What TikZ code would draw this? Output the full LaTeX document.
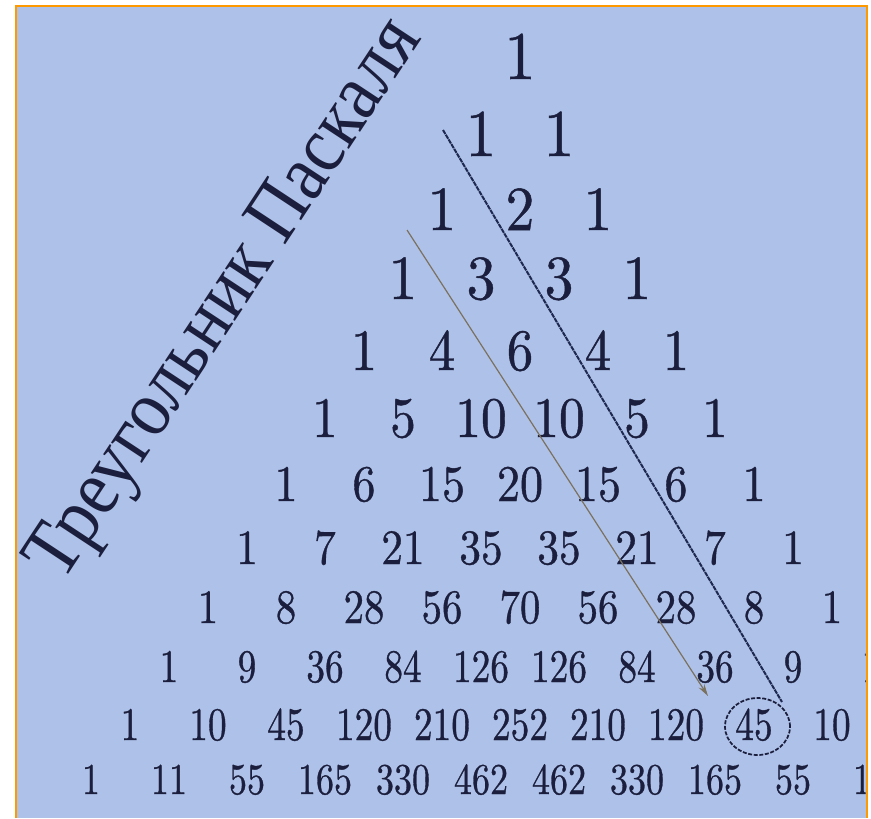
\documentclass[tikz,border=0pt]{standalone}
\usepackage{fontspec}
\usepackage{graphicx}
\newfontfamily\titlefont{Liberation Serif}
\newfontfamily\numfont{lmroman10-regular.otf}[FakeBold=0.8]
\usetikzlibrary{arrows.meta,shapes.geometric}
\definecolor{bgblue}{HTML}{AEC1E8}
\definecolor{frameorange}{HTML}{FF9900}
\definecolor{inkc}{HTML}{1B1E3C}
\definecolor{diagc}{HTML}{1E2850}
\definecolor{arrowc}{HTML}{7B715F}
\tikzset{
  num/.style={inner sep=0pt, anchor=base, text=inkc},
  titlestyle/.style={inner sep=0pt, text=inkc, font=\titlefont\fontsize{50}{50}\selectfont},
  diagline/.style={draw=diagc, line width=1.5pt, dash pattern=on 3.5pt off 0.6pt},
  arrowline/.style={draw=arrowc, line width=0.9pt, -{Stealth[length=9pt,width=5pt]}},
  ringstyle/.style={draw=inkc, ellipse, line width=1.3pt, dash pattern=on 3pt off 1.2pt, minimum width=65*0.75pt, minimum height=57*0.75pt, inner sep=0pt}
}
\begin{document}
\begin{tikzpicture}[x=0.75pt,y=-0.75pt]
\useasboundingbox (0,0) rectangle (871,818);
\fill[white] (0,0) rectangle (871,818);
\fill[bgblue] (16,6) rectangle (867,818);
\begin{scope}
\clip (17.5,7.5) rectangle (865.5,818);
\foreach \n/\yb/\fs/\sx/\vals in {
  0/79/51/0.92/{1},
  1/156/50/0.92/{1,1},
  2/230/47/0.92/{1,2,1},
  3/299/47/0.92/{1,3,3,1},
  4/370/44/0.9/{1,4,6,4,1},
  5/437/43/0.9/{1,5,10,10,5,1},
  6/501/38.5/0.9/{1,6,15,20,15,6,1},
  7/564/37/0.88/{1,7,21,35,35,21,7,1},
  8/623/36/0.85/{1,8,28,56,70,56,28,8,1},
  9/682/35/0.8/{1,9,36,84,126,126,84,36,9,1},
  10/740/35/0.8/{1,10,45,120,210,252,210,120,45,10,1},
  11/794/33/0.82/{1,11,55,165,330,462,462,330,165,55,11,1}} {
  \foreach \v [count=\k from 0] in \vals {
    \node[num] (r\n-\k) at ({520+78*(\k-\n/2)}, \yb) {\numfont\fontsize{\fs}{\fs}\selectfont\scalebox{\sx}[1]{\v}};
  }
}
\node[ringstyle] (ring) at (757.5,726.5) {};
\coordinate (d1s) at (443,130);
\coordinate (d1e) at (782,702);
\draw[diagline] (d1s) -- (d1e);
\coordinate (a1s) at (407,230);
\coordinate (a1e) at (708,696);
\draw[arrowline] (a1s) -- (a1e);
\node[titlestyle, rotate=56.6] (title) at (228,301) {\scalebox{1}[1.12]{\resizebox{490pt}{!}{Треугольник Паскаля}}};
\end{scope}
\draw[frameorange, line width=2.2pt] (16,818) -- (16,6) -- (867,6) -- (867,818);
\end{tikzpicture}
\end{document}
